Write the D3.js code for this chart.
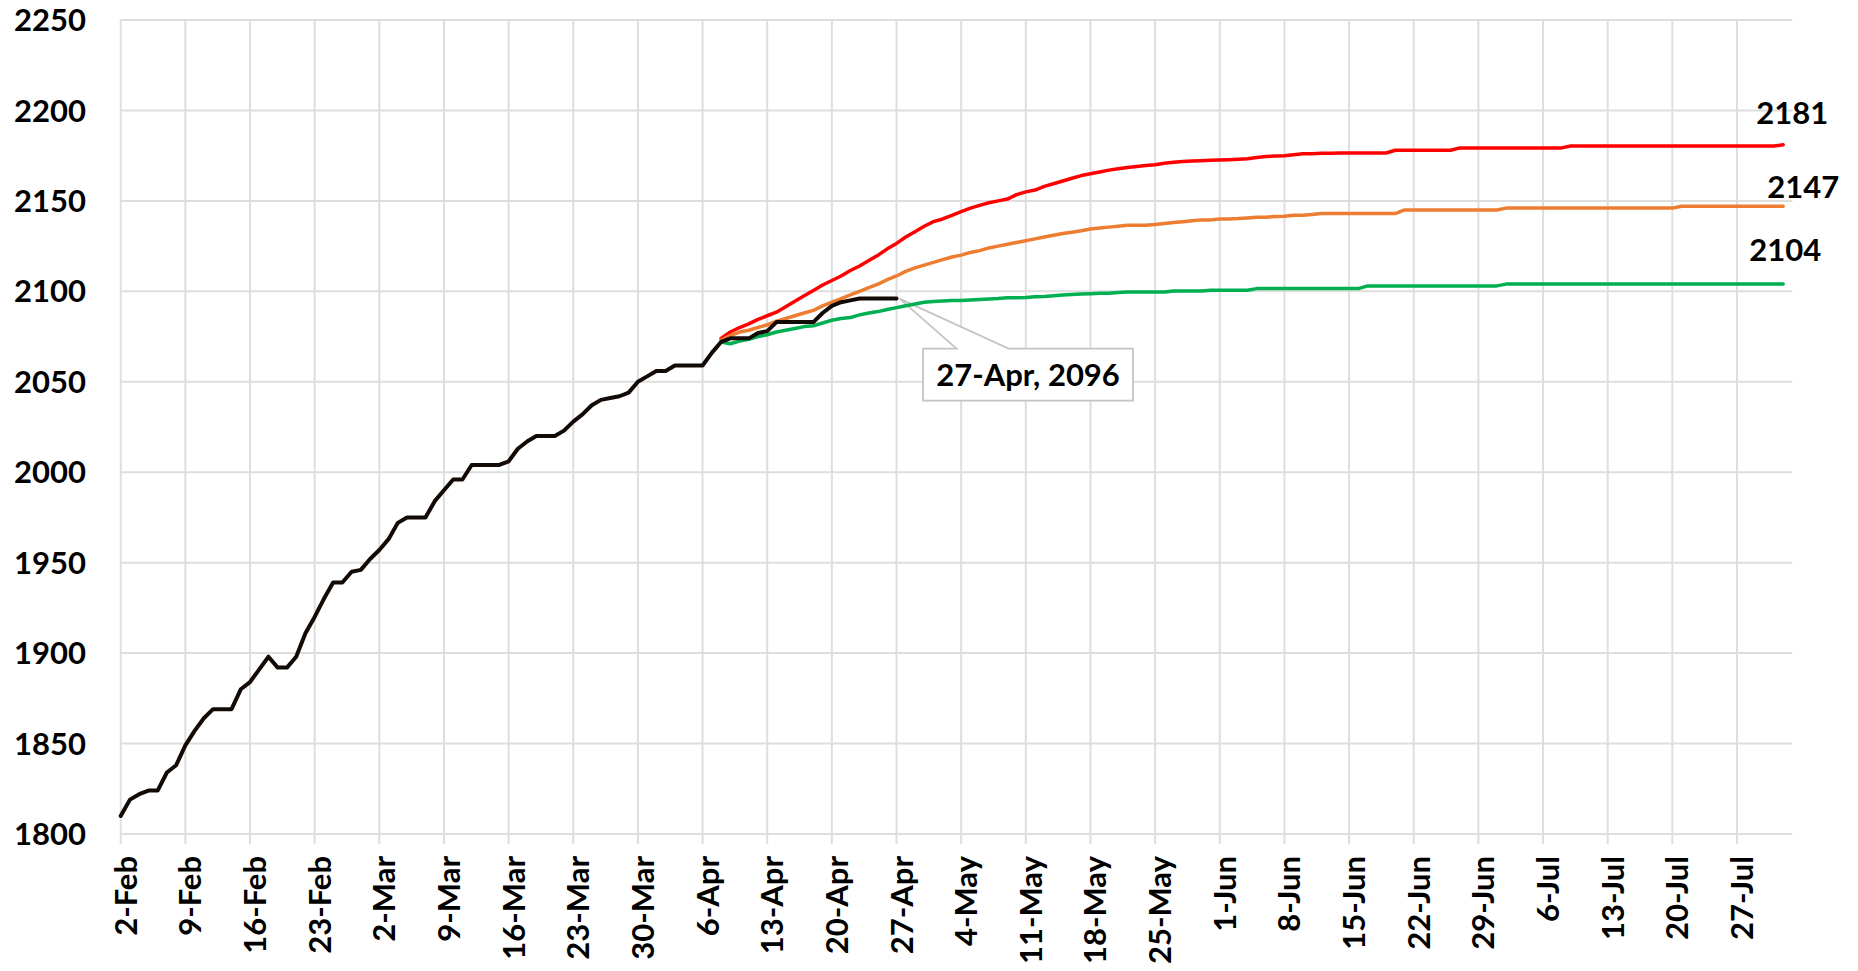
<!DOCTYPE html>
<html>
<head>
<meta charset="utf-8">
<script src="https://cdn.jsdelivr.net/npm/d3@7"></script>
<style>
  body { margin: 0; background: #fff; }
  text { font-family: Lato, 'Open Sans', sans-serif; font-weight: 700; fill: #000; }
</style>
</head>
<body>
<svg id="chart" width="1858" height="971"></svg>
<script>
// Actual daily totals, starting 2-Feb
var actualStart = '2-Feb'
var actual = [
  1810, 1819, 1822, 1824, 1824, 1834, 1838, 1849, 1857, 1864,
  1869, 1869, 1869, 1880, 1884, 1891, 1898, 1892, 1892, 1898,
  1911, 1920, 1930, 1939, 1939, 1945, 1946, 1952, 1957, 1963,
  1972, 1975, 1975, 1975, 1984, 1990, 1996, 1996, 2004, 2004,
  2004, 2004, 2006, 2013, 2017, 2020, 2020, 2020, 2023, 2028,
  2032, 2037, 2040, 2041, 2042, 2044, 2050, 2053, 2056, 2056,
  2059, 2059, 2059, 2059, 2066, 2072, 2074, 2074, 2074, 2077,
  2078, 2083, 2083, 2083, 2083, 2083, 2088, 2092, 2094, 2095,
  2096, 2096, 2096, 2096, 2096
]

// Projections, starting 8-Apr
var forecastStart = '8-Apr'
var high = [
  2074, 2077.5, 2080, 2082, 2084.5, 2086.5, 2088.5, 2091.5, 2094.5, 2097.5,
  2100.5, 2103.5, 2106, 2108.5, 2111.5, 2114, 2117, 2120, 2123.5, 2126.5,
  2130, 2133, 2136, 2138.5, 2140, 2142, 2144, 2146, 2147.5, 2149,
  2150, 2151, 2153.5, 2155, 2156, 2158, 2159.5, 2161, 2162.5, 2164,
  2165, 2166, 2167, 2167.8, 2168.5, 2169, 2169.5, 2170, 2170.8, 2171.3,
  2171.8, 2172, 2172.2, 2172.4, 2172.6, 2172.8, 2173, 2173.3, 2174, 2174.5,
  2174.8, 2175, 2175.5, 2176, 2176, 2176.3, 2176.4, 2176.5, 2176.5, 2176.5,
  2176.5, 2176.5, 2176.5, 2178, 2178, 2178, 2178, 2178, 2178, 2178,
  2179.3, 2179.3, 2179.3, 2179.3, 2179.3, 2179.3, 2179.3, 2179.3, 2179.3, 2179.3,
  2179.3, 2179.3, 2180.3, 2180.3, 2180.3, 2180.3, 2180.3, 2180.3, 2180.3, 2180.3,
  2180.3, 2180.3, 2180.3, 2180.3, 2180.3, 2180.3, 2180.3, 2180.3, 2180.3, 2180.3,
  2180.3, 2180.3, 2180.3, 2180.3, 2180.3, 2181
]
var mid = [
  2073, 2075.5, 2077.5, 2078.5, 2080, 2081.5, 2083.5, 2085, 2086.5, 2088,
  2089.5, 2092, 2094, 2096, 2098, 2100, 2102, 2104, 2106.5, 2108.5,
  2111, 2113, 2114.5, 2116, 2117.5, 2119, 2120, 2121.5, 2122.5, 2124,
  2125, 2126, 2127, 2128, 2129, 2130, 2131, 2132, 2132.7, 2133.5,
  2134.5, 2135, 2135.5, 2136, 2136.5, 2136.5, 2136.5, 2137, 2137.5, 2138,
  2138.5, 2139, 2139.5, 2139.5, 2140, 2140, 2140.2, 2140.6, 2141, 2141,
  2141.4, 2141.5, 2142, 2142, 2142.5, 2143, 2143, 2143, 2143, 2143,
  2143, 2143, 2143, 2143, 2145, 2145, 2145, 2145, 2145, 2145,
  2145, 2145, 2145, 2145, 2145, 2146, 2146, 2146, 2146, 2146,
  2146, 2146, 2146, 2146, 2146, 2146, 2146, 2146, 2146, 2146,
  2146, 2146, 2146, 2146, 2147, 2147, 2147, 2147, 2147, 2147,
  2147, 2147, 2147, 2147, 2147, 2147
]
var low = [
  2072, 2071, 2072.5, 2073.5, 2075, 2076, 2077.5, 2078.5, 2079.5, 2080.5,
  2081, 2082.5, 2084, 2085, 2085.5, 2087, 2088, 2088.8, 2090, 2091,
  2092, 2093, 2094, 2094.4, 2094.7, 2094.9, 2095, 2095.2, 2095.5, 2095.8,
  2096, 2096.4, 2096.5, 2096.6, 2097, 2097.2, 2097.6, 2098, 2098.3, 2098.5,
  2098.7, 2098.9, 2099, 2099.3, 2099.6, 2099.6, 2099.6, 2099.6, 2099.6, 2100.2,
  2100.2, 2100.2, 2100.2, 2100.6, 2100.6, 2100.6, 2100.6, 2100.6, 2101.5, 2101.5,
  2101.5, 2101.5, 2101.5, 2101.5, 2101.5, 2101.5, 2101.5, 2101.5, 2101.5, 2101.5,
  2103, 2103, 2103, 2103, 2103, 2103, 2103, 2103, 2103, 2103,
  2103, 2103, 2103, 2103, 2103, 2104, 2104, 2104, 2104, 2104,
  2104, 2104, 2104, 2104, 2104, 2104, 2104, 2104, 2104, 2104,
  2104, 2104, 2104, 2104, 2104, 2104, 2104, 2104, 2104, 2104,
  2104, 2104, 2104, 2104, 2104, 2104
]

var yTicks = [1800, 1850, 1900, 1950, 2000, 2050, 2100, 2150, 2200, 2250]
var xTickLabels = [
  '2-Feb', '9-Feb', '16-Feb', '23-Feb', '2-Mar', '9-Mar', '16-Mar', '23-Mar',
  '30-Mar', '6-Apr', '13-Apr', '20-Apr', '27-Apr', '4-May', '11-May', '18-May',
  '25-May', '1-Jun', '8-Jun', '15-Jun', '22-Jun', '29-Jun', '6-Jul', '13-Jul',
  '20-Jul', '27-Jul'
]
var xEnd = '2-Aug'

var parse = function(s) {
  return d3.utcParse('%d-%b-%Y')(s + '-2021')
}
var fmtDate = d3.utcFormat('%-d-%b')

function toPoints(start, values) {
  var d0 = parse(start)
  return values.map(function(v, i) {
    return { date: d3.utcDay.offset(d0, i), value: v }
  })
}

var svg = d3.select('#chart')

var xPositionScale = d3
  .scaleUtc()
  .domain([parse(xTickLabels[0]), parse(xEnd)])
  .range([120.7, 1792.4])
var yPositionScale = d3
  .scaleLinear()
  .domain([1800, 2250])
  .range([834, 20])

var gridColor = '#dedede'

// horizontal grid
svg
  .selectAll('.hgrid')
  .data(yTicks)
  .enter()
  .append('line')
  .attr('x1', xPositionScale.range()[0])
  .attr('x2', xPositionScale.range()[1])
  .attr('y1', d => yPositionScale(d))
  .attr('y2', d => yPositionScale(d))
  .attr('stroke', gridColor)
  .attr('stroke-width', 2)

// vertical grid + tick marks
svg
  .selectAll('.vgrid')
  .data(xTickLabels)
  .enter()
  .append('line')
  .attr('x1', d => xPositionScale(parse(d)))
  .attr('x2', d => xPositionScale(parse(d)))
  .attr('y1', yPositionScale(2250))
  .attr('y2', yPositionScale(1800) + 10)
  .attr('stroke', gridColor)
  .attr('stroke-width', 2)

svg
  .selectAll('.ylabel')
  .data(yTicks)
  .enter()
  .append('text')
  .text(d => d)
  .attr('x', 86)
  .attr('y', d => yPositionScale(d))
  .attr('dy', '0.36em')
  .attr('text-anchor', 'end')
  .attr('font-size', '31px')

svg
  .selectAll('.xlabel')
  .data(xTickLabels)
  .enter()
  .append('text')
  .text(d => d)
  .attr('transform', d => 'translate(' + xPositionScale(parse(d)) + ',856) rotate(-90)')
  .attr('dy', 16)
  .attr('text-anchor', 'end')
  .attr('font-size', '31px')

var actualPts = toPoints(actualStart, actual)
var last = actualPts[actualPts.length - 1]

// callout for last actual value (under the lines, hides grid)
var ax = xPositionScale(last.date)
var ay = yPositionScale(last.value)
var bx = ax + 26.5
var by = ay + 50
var bw = 210
var bh = 52
svg
  .append('path')
  .attr('d', 'M' + bx + ',' + by +
    'L' + (ax + 60) + ',' + by +
    'L' + (ax + 3) + ',' + ay +
    'L' + (ax + 112) + ',' + by +
    'L' + (bx + bw) + ',' + by +
    'L' + (bx + bw) + ',' + (by + bh) +
    'L' + bx + ',' + (by + bh) + 'Z')
  .attr('fill', '#fff')
  .attr('stroke', '#c4c4c4')
  .attr('stroke-width', 1.8)

var line = d3
  .line()
  .x(d => xPositionScale(d.date))
  .y(d => yPositionScale(d.value))

var series = [
  { values: high, color: '#ff0000', dx: 9, dy: -32 },
  { values: mid, color: '#ed7d31', dx: 20, dy: -19 },
  { values: low, color: '#00b050', dx: 2, dy: -34 }
]

series.forEach(function(s) {
  var pts = toPoints(forecastStart, s.values)
  svg
    .append('path')
    .datum(pts)
    .attr('d', line)
    .attr('fill', 'none')
    .attr('stroke', s.color)
    .attr('stroke-width', 3.5)
    .attr('stroke-linejoin', 'round')
    .attr('stroke-linecap', 'round')

  var end = pts[pts.length - 1]
  svg
    .append('text')
    .text(d3.format('d')(end.value))
    .attr('x', xPositionScale(end.date) + s.dx)
    .attr('y', yPositionScale(end.value) + s.dy)
    .attr('dy', '0.36em')
    .attr('text-anchor', 'middle')
    .attr('font-size', '31px')
})

svg
  .append('path')
  .datum(actualPts)
  .attr('d', line)
  .attr('fill', 'none')
  .attr('stroke', '#140a05')
  .attr('stroke-width', 4)
  .attr('stroke-linejoin', 'round')
  .attr('stroke-linecap', 'round')

svg
  .append('text')
  .text(fmtDate(last.date) + ', ' + last.value)
  .attr('x', bx + bw / 2)
  .attr('y', by + bh / 2)
  .attr('dy', '0.36em')
  .attr('text-anchor', 'middle')
  .attr('font-size', '31px')
</script>
</body>
</html>
